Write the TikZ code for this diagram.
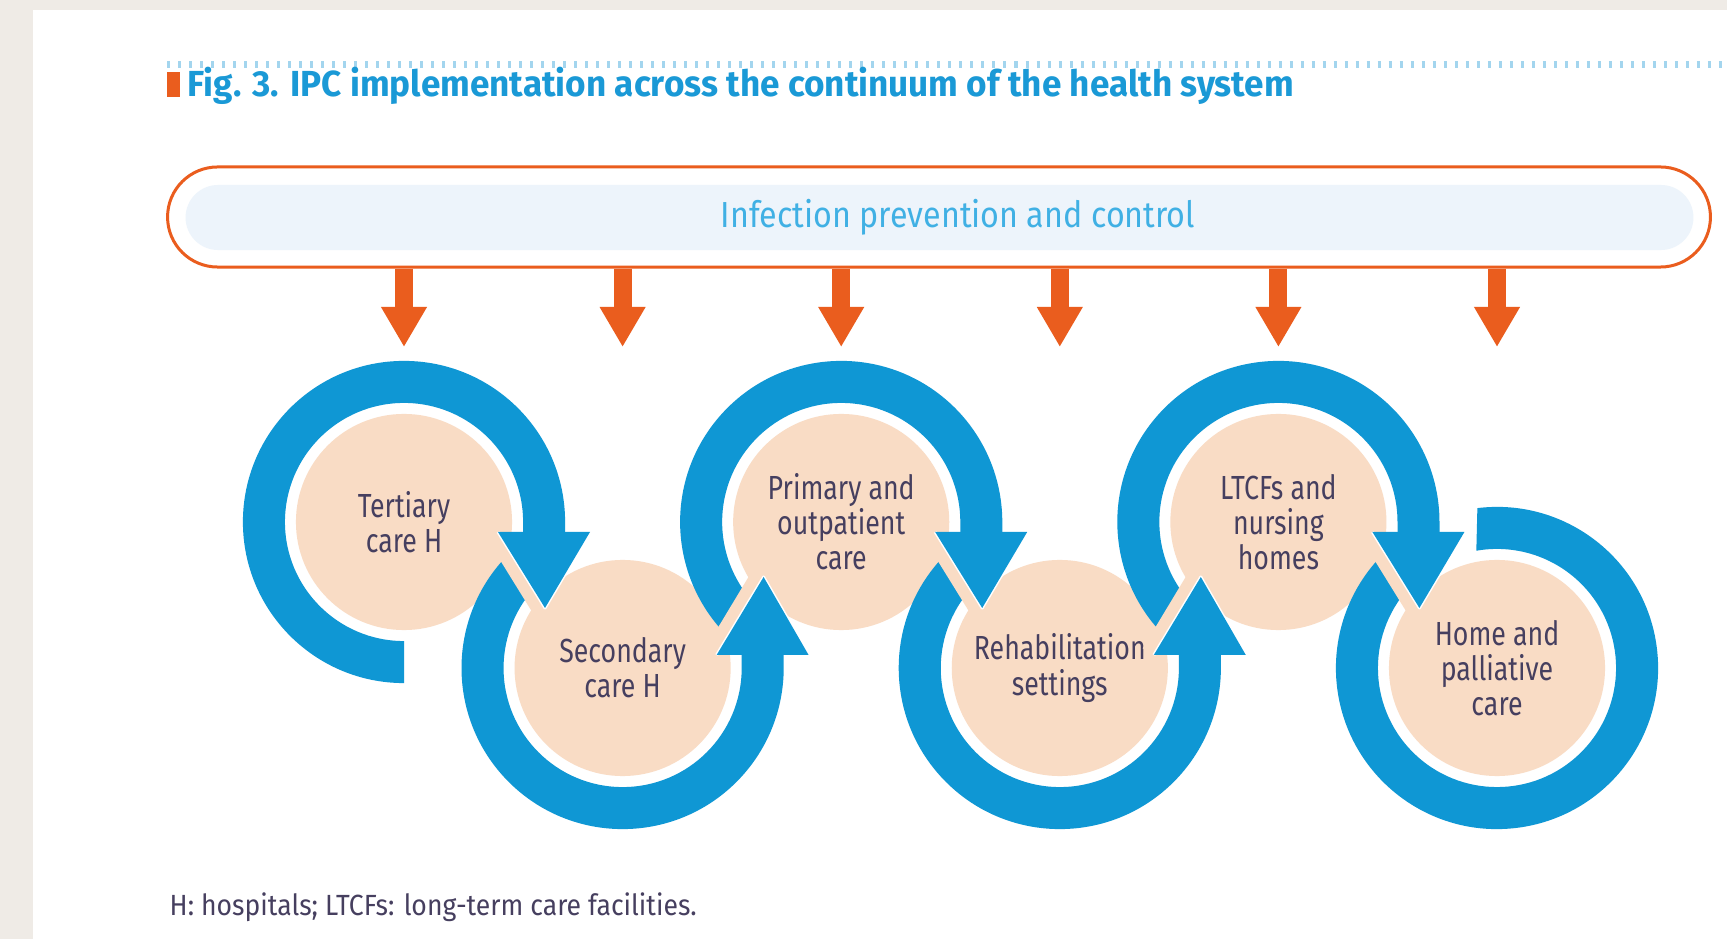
\documentclass[tikz,border=0pt]{standalone}
\usepackage{fontspec}
\newfontfamily\whofont[FakeStretch=0.80]{Fira Sans}
\newfontfamily\boxfont[FakeStretch=0.89]{Fira Sans}
\newfontfamily\titlefont[FakeStretch=0.97]{Fira Sans}
\newfontfamily\notefont[FakeStretch=0.91]{Fira Sans}
\usepackage{tikz}
\usetikzlibrary{calc, shapes.misc, arrows.meta}

\definecolor{bggray}{HTML}{EFEBE6}
\definecolor{ringblue}{HTML}{0F97D4}
\definecolor{titleblue}{HTML}{1A99D6}
\definecolor{lightblue}{HTML}{40B0E4}
\definecolor{dotblue}{HTML}{A3D5EE}
\definecolor{ipcorange}{HTML}{EA5D1E}
\definecolor{boxfill}{HTML}{EDF4FB}
\definecolor{discpink}{HTML}{F9DCC5}
\definecolor{textdark}{HTML}{463F5F}

\tikzset{
  disc/.style={circle, fill=discpink, minimum size=2.16cm, inner sep=0pt,
    align=center, text=textdark, font=\whofont\fontsize{9.5}{10}\selectfont},
  ring/.style={fill=ringblue},
  gapstrip/.style={fill=discpink},
  dnarrow/.style={draw=ipcorange, line width=0.18cm,
    -{Triangle[width=0.43cm, length=0.4cm]}},
}

\begin{document}
\begin{tikzpicture}[x=0.01cm, y=0.01cm]
    % Nền trang
    \fill[white] (0,0) rectangle (1736,939);
    \fill[bggray] (0,0) rectangle (1727,939);
    \fill[white] (33,0) rectangle (1736,929);
    \useasboundingbox (0,0) rectangle (1736,939);

    % Tiêu đề
    \draw[dotblue, line width=0.07cm, dash pattern=on 0.03cm off 0.08cm]
        (167,874.5) -- (1727,874.5);
    \fill[ipcorange] (167,842) rectangle (180,867);
    \node[anchor=base west, inner sep=0pt, text=titleblue,
        font=\titlefont\bfseries\fontsize{10.3}{12}\selectfont] (title) at (187,842)
        {Fig. 3. IPC implementation across the continuum of the health system};

    % Khung IPC
    \node[rounded rectangle, draw=ipcorange, line width=0.03cm, inner sep=0pt,
        minimum width=15.42cm, minimum height=1cm] (ipc) at (939,722) {};
    \node[rounded rectangle, fill=boxfill, inner sep=0pt,
        minimum width=15.07cm, minimum height=0.65cm] (ipcin) at (939.5,721.5) {};
    \node[anchor=base, inner sep=0pt, text=lightblue,
        font=\boxfont\fontsize{10.3}{12}\selectfont] (ipctext) at (958,711)
        {Infection prevention and control};

    % Các vòng tròn
    \foreach \i/\x/\y/\txt in {1/404/417/{Tertiary\\care H},
        2/622.6/271/{Secondary\\care H},
        3/841.2/417/{Primary and\\outpatient\\care},
        4/1059.8/271/{Rehabilitation\\settings},
        5/1278.4/417/{LTCFs and\\nursing\\homes},
        6/1497/271/{Home and\\palliative\\care}} {
        \node[disc] (d\i) at (\x,\y) {\txt};
    }

    % Mũi tên xuống
    \coordinate (tipline) at (0,592);
    \foreach \i in {1,...,6} {
        \draw[dnarrow] (ipc.south -| d\i) -- (d\i |- tipline);
    }

    % Vòng xanh
    \foreach \i/\s in {1/270, 3/230, 5/230} {
        \fill[ring] (d\i.center) ++(\s:1.61cm)
            arc[start angle=\s, end angle=0, radius=1.61cm]
            -- ++(0,-12) -- ++(-42,0) -- ++(0,12)
            arc[start angle=0, end angle=\s, radius=1.19cm] -- cycle;
    }
    \foreach \i in {2,4} {
        \fill[ring] (d\i.center) ++(135:1.61cm)
            arc[start angle=135, end angle=360, radius=1.61cm]
            -- ++(0,15) -- ++(-42,0) -- ++(0,-15)
            arc[start angle=360, end angle=135, radius=1.19cm] -- cycle;
    }
    \fill[ring] (d6.center) ++(97:1.61cm)
        arc[start angle=97, end angle=-225, radius=1.61cm]
        -- ++(315:0.42cm)
        arc[start angle=-225, end angle=100, radius=1.19cm] -- cycle;

    % Dải nối giữa hai vòng
    \foreach \i in {1,3,5} {
        \fill[gapstrip] ($(d\i.center)+(94,-10)$) -- ($(d\i.center)+(141,-86)$)
            -- ($(d\i.center)+(129.9,-92.8)$) -- ($(d\i.center)+(82.9,-16.8)$) -- cycle;
    }
    \foreach \i in {2,4} {
        \fill[gapstrip] ($(d\i.center)+(94,13)$) -- ($(d\i.center)+(141,91)$)
            -- ($(d\i.center)+(129.9,97.7)$) -- ($(d\i.center)+(82.9,19.7)$) -- cycle;
    }

    % Đầu mũi tên xanh
    \foreach \i in {1,3,5} {
        \draw[white, line width=0.03cm, line join=round] ($(d\i.center)+(94,-10)$)
            -- ($(d\i.center)+(141,-86)$) -- ($(d\i.center)+(186,-10)$);
        \fill[ring] ($(d\i.center)+(94,-10)$) -- ($(d\i.center)+(141,-86)$)
            -- ($(d\i.center)+(186,-10)$) -- cycle;
    }
    \foreach \i in {2,4} {
        \draw[white, line width=0.03cm, line join=round] ($(d\i.center)+(94,13)$)
            -- ($(d\i.center)+(141,91)$) -- ($(d\i.center)+(186,13)$);
        \fill[ring] ($(d\i.center)+(94,13)$) -- ($(d\i.center)+(141,91)$)
            -- ($(d\i.center)+(186,13)$) -- cycle;
    }

    % Chú thích
    \node[anchor=base west, inner sep=0pt, text=textdark,
        font=\notefont\fontsize{8.3}{10}\selectfont] (note) at (169,24)
        {H: hospitals; LTCFs: long-term care facilities.};
\end{tikzpicture}
\end{document}
